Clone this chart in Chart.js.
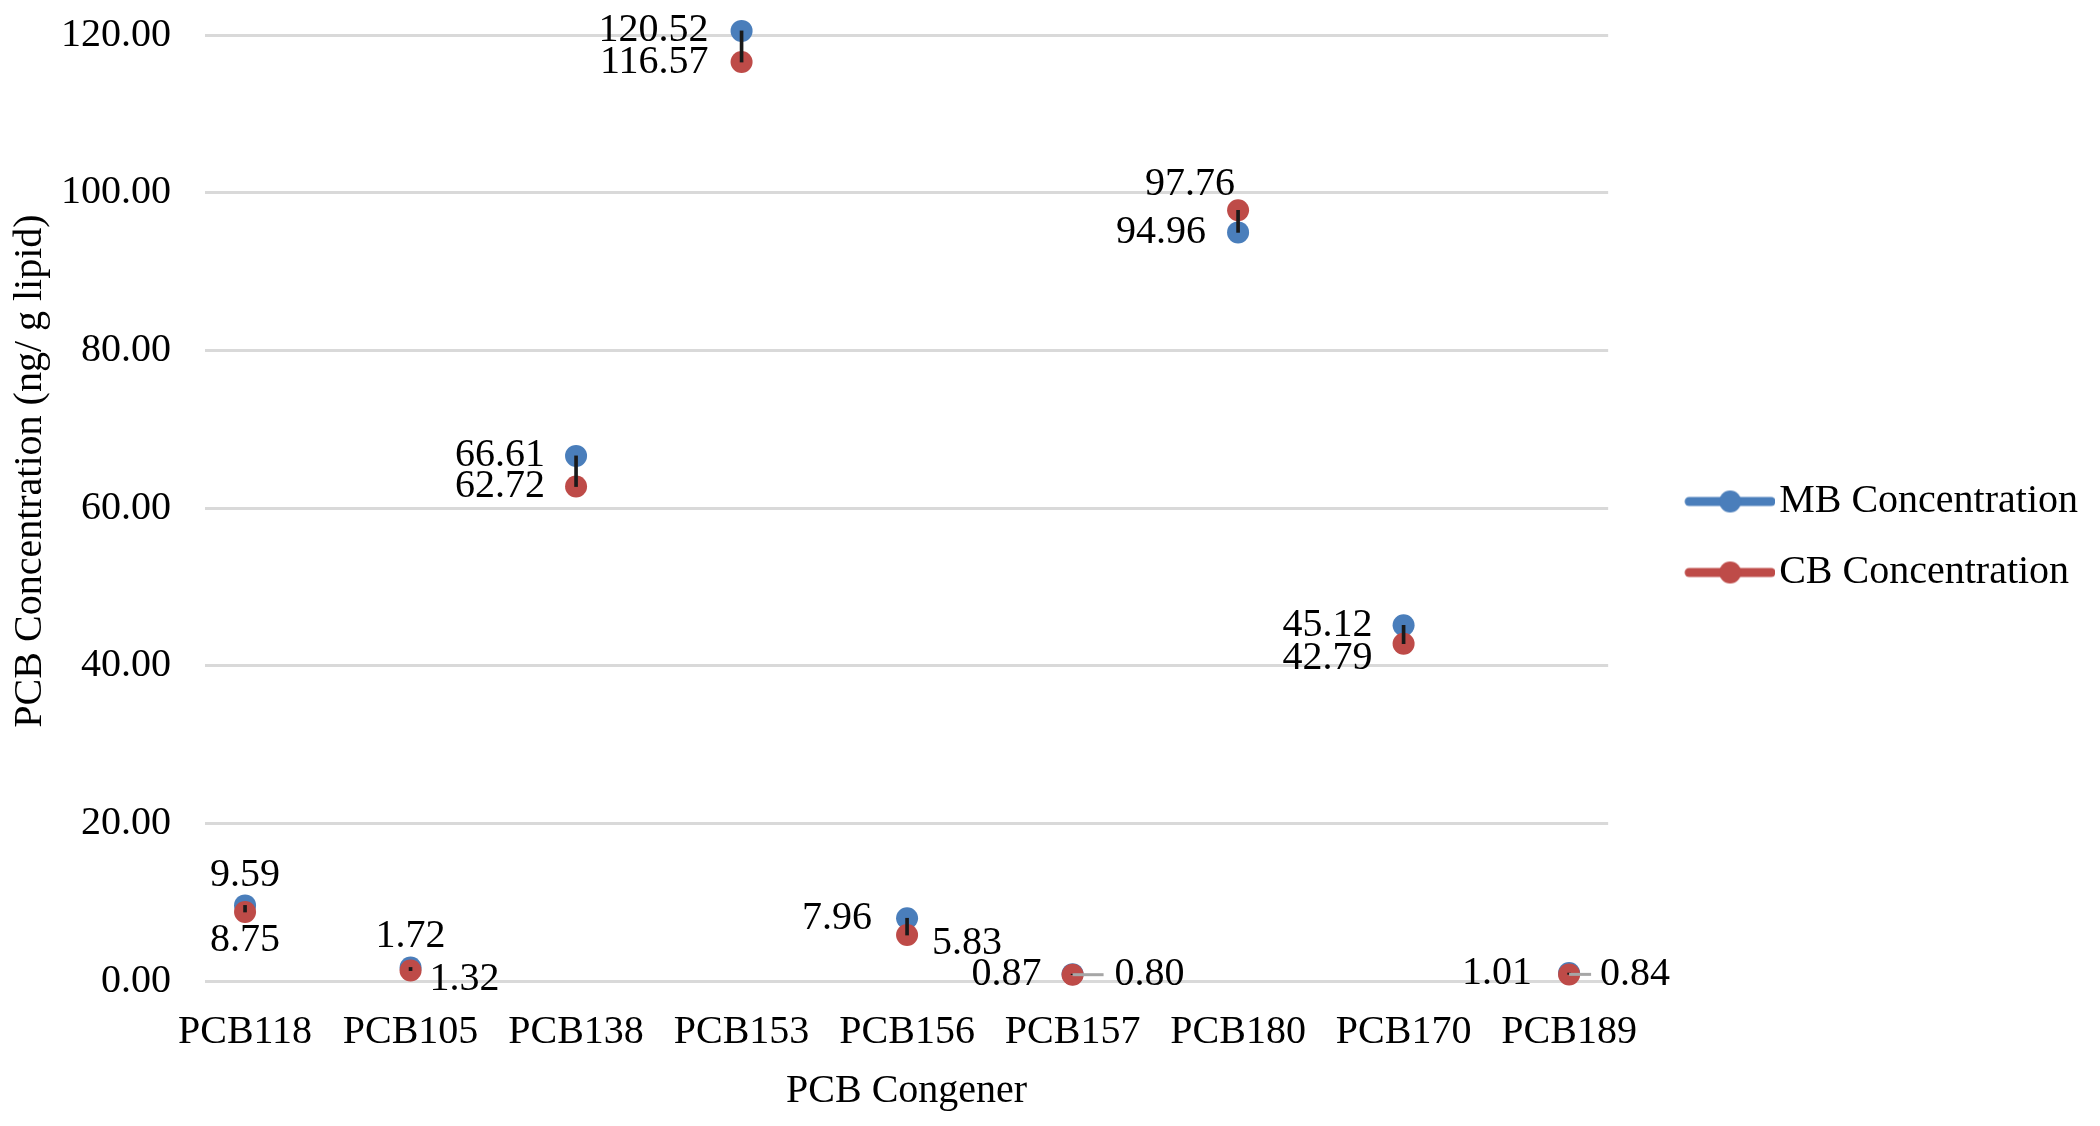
<!DOCTYPE html>
<html>
<head>
<meta charset="utf-8">
<script src="https://cdn.jsdelivr.net/npm/chart.js@4"></script>
<style>
  body { margin: 0; background: #fff; }
  #wrap { width: 2100px; height: 1126px; }
</style>
</head>
<body>
<div id="wrap"><canvas id="pcb-chart" width="2100" height="1126"></canvas></div>
<script>
const congeners = ['PCB118', 'PCB105', 'PCB138', 'PCB153', 'PCB156', 'PCB157', 'PCB180', 'PCB170', 'PCB189'];
const mb_values = [9.59, 1.72, 66.61, 120.52, 7.96, 0.87, 94.96, 45.12, 1.01];
const cb_values = [8.75, 1.32, 62.72, 116.57, 5.83, 0.80, 97.76, 42.79, 0.84];
const y_ticks = [0, 20, 40, 60, 80, 100, 120];

const blue = '#4A7EBB';
const red = '#BE4B48';
const font_family = '"Liberation Serif", "Times New Roman", serif';
const y_title = 'PCB Concentration (ng/ g lipid)';

// where each value label sits next to its point: [dx, dy, align, leader length]
const mb_spots = [
  [0, -30, 'center'], [0, -31, 'center'], [-31, 0, 'right'], [-33, 0, 'right'], [-35, 0, 'right'],
  [-31, 0, 'right'], [-32, 0, 'right'], [-31, 0, 'right'], [-37, 0, 'right']
];
const cb_spots = [
  [0, 28, 'center'], [19, 9, 'left'], [-31, 0, 'right'], [-33, 0, 'right'], [25, 8, 'left'],
  [42, 0, 'left', 31], [-48, -26, 'center'], [-76, 15, 'center'], [31, 0, 'left', 22]
];

// legend marker: line with a dot, sitting on the right part of a wider canvas
function legendIcon(color) {
  const c = document.createElement('canvas');
  c.width = 152;
  c.height = 24;
  const g = c.getContext('2d');
  g.strokeStyle = color;
  g.lineWidth = 9;
  g.lineCap = 'round';
  g.beginPath();
  g.moveTo(66, 12);
  g.lineTo(148, 12);
  g.stroke();
  g.fillStyle = color;
  g.beginPath();
  g.arc(107, 12, 11, 0, Math.PI * 2);
  g.fill();
  return c;
}
const icons = [legendIcon(blue), legendIcon(red)];

const pointLabels = {
  id: 'pointLabels',
  afterDatasetsDraw(chart) {
    const ctx = chart.ctx;
    ctx.save();
    ctx.font = '40px ' + font_family;
    ctx.textBaseline = 'middle';
    [[0, mb_values, mb_spots], [1, cb_values, cb_spots]].forEach(([di, vals, spots]) => {
      const meta = chart.getDatasetMeta(di);
      meta.data.forEach((pt, i) => {
        const [dx, dy, align, leader] = spots[i];
        if (leader) {
          ctx.strokeStyle = '#A6A6A6';
          ctx.lineWidth = 3;
          ctx.beginPath();
          ctx.moveTo(pt.x, pt.y + dy);
          ctx.lineTo(pt.x + leader, pt.y + dy);
          ctx.stroke();
        }
        ctx.fillStyle = '#000';
        ctx.textAlign = align;
        ctx.fillText(vals[i].toFixed(2), pt.x + dx, pt.y + dy);
      });
    });
    ctx.restore();
  }
};

// y title sits a bit above the middle of the axis, as in the original
const yTitle = {
  id: 'yTitle',
  afterDraw(chart) {
    const s = chart.scales.y;
    const ctx = chart.ctx;
    ctx.save();
    ctx.translate(s.left + 22, (s.top + s.bottom) / 2 - 37);
    ctx.rotate(-Math.PI / 2);
    ctx.font = '40px ' + font_family;
    ctx.fillStyle = '#000';
    ctx.textAlign = 'center';
    ctx.textBaseline = 'middle';
    ctx.fillText(y_title, 0, 0);
    ctx.restore();
  }
};

(function createPcbChart() {
  const toPoints = vals => vals.map((v, i) => ({ x: i, y: v }));

  new Chart(document.getElementById('pcb-chart'), {
    type: 'line',
    data: {
      datasets: [
        {
          label: 'MB Concentration',
          data: toPoints(mb_values),
          showLine: false,
          backgroundColor: blue,
          borderColor: blue,
          pointRadius: 11,
          pointBorderWidth: 0,
          clip: false,
          order: 2
        },
        {
          label: 'CB Concentration',
          data: toPoints(cb_values),
          showLine: false,
          backgroundColor: red,
          borderColor: red,
          pointRadius: 11,
          pointBorderWidth: 0,
          clip: false,
          order: 1
        },
        {
          // high-low lines
          type: 'bar',
          label: 'hilo',
          data: mb_values.map((v, i) => ({ x: i, y: [cb_values[i], v] })),
          backgroundColor: '#1A1A1A',
          barThickness: 3,
          grouped: false,
          clip: false,
          order: 0
        }
      ]
    },
    options: {
      responsive: false,
      animation: false,
      layout: {
        padding: { left: 8, top: 11, right: 12, bottom: 63 }
      },
      scales: {
        x: {
          type: 'linear',
          offset: false,
          min: -0.242,
          max: 8.236,
          grid: { display: false },
          border: { display: false },
          ticks: {
            stepSize: 1,
            includeBounds: false,
            autoSkip: false,
            maxRotation: 0,
            padding: 19,
            color: '#000',
            font: { family: font_family, size: 40 },
            callback: v => congeners[v] ?? ''
          },
          title: {
            display: true,
            text: 'PCB Congener',
            color: '#000',
            font: { family: font_family, size: 40 },
            padding: { top: -8, bottom: -52 }
          }
        },
        y: {
          min: y_ticks[0],
          max: y_ticks[y_ticks.length - 1],
          grid: { color: '#D9D9D9', lineWidth: 3, drawTicks: true, tickLength: 34, tickColor: 'rgba(0,0,0,0)' },
          border: { display: false },
          ticks: {
            stepSize: y_ticks[1] - y_ticks[0],
            padding: 0,
            color: '#000',
            font: { family: font_family, size: 40, lineHeight: 1.75 },
            callback: v => v.toFixed(2)
          },
          title: {
            // keeps the room for the title; the text itself is drawn by yTitle
            display: true,
            text: y_title,
            color: 'rgba(0,0,0,0)',
            font: { family: font_family, size: 40 },
            padding: { top: 0, bottom: 5 }
          }
        }
      },
      plugins: {
        tooltip: { enabled: false },
        legend: {
          position: 'right',
          align: 'center',
          labels: {
            usePointStyle: true,
            pointStyleWidth: 120,
            boxHeight: 24,
            padding: 31,
            color: '#000',
            font: { family: font_family, size: 40 },
            generateLabels: chart => chart.data.datasets
              .map((ds, i) => ({
                text: ds.label,
                pointStyle: icons[i],
                datasetIndex: i,
                hidden: false,
                fontColor: '#000',
                lineWidth: 0,
                strokeStyle: 'rgba(0,0,0,0)',
                fillStyle: ds.backgroundColor
              }))
              .filter(item => item.datasetIndex < 2)
          }
        }
      }
    },
    plugins: [pointLabels, yTitle]
  });
})();
</script>
</body>
</html>
